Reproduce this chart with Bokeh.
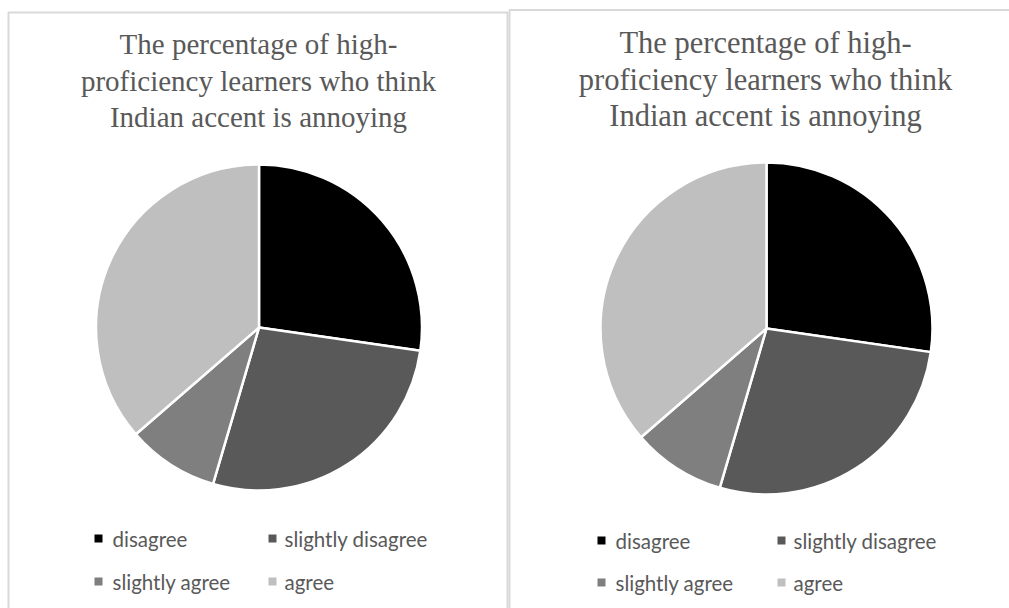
import numpy as np
from bokeh.plotting import figure
from bokeh.models import Range1d
from bokeh.core.properties import value
from bokeh.embed import file_html
from bokeh.resources import INLINE

# Survey answers of the high-proficiency group (counts per answer)
title_lines = ["The percentage of high-",
               "proficiency learners who think",
               "Indian accent is annoying"]
categories = ["disagree", "slightly disagree", "slightly agree", "agree"]
left_counts = [3, 3, 1, 4]
right_counts = [3, 3, 1, 4]
colors = ["#000000", "#595959", "#7f7f7f", "#bfbfbf"]

W, H = 1009, 608
TEXT_GREY = "#595959"
SERIF = "Liberation Serif, Times New Roman, serif"

p = figure(width=W, height=H, x_range=Range1d(0, W), y_range=Range1d(0, H),
           output_backend="svg", toolbar_location=None, min_border=0,
           x_axis_location=None, y_axis_location=None)
p.grid.visible = False
p.outline_line_color = None
p.background_fill_color = "white"
p.border_fill_color = "white"


def fy(y_from_top):
    """Convert a distance from the top of the canvas to a y coordinate."""
    return H - y_from_top


panels = [
    dict(counts=left_counts, box=(8, 507, 12), cx=258.5, cy=327, r=163,
         title_x=258, title_size=29, centers=(43, 80, 116),
         sq_x=(98, 272), txt_x=(112, 284), rows=(538, 581), leg_size=20.5),
    dict(counts=right_counts, box=(509, 1040, 9.5), cx=766, cy=328, r=166,
         title_x=765, title_size=30.5, centers=(42, 79, 115),
         sq_x=(601, 781), txt_x=(615, 793), rows=(540, 582), leg_size=20.5),
]

for pan in panels:
    x0, x1, top = pan["box"]
    p.quad(left=x0, right=x1, top=fy(top), bottom=-30, fill_color=None,
           line_color="#d9d9d9", line_width=2)

    counts = np.array(pan["counts"], dtype=float)
    frac = counts / counts.sum()
    cum = np.concatenate([[0.0], np.cumsum(frac)])
    start = np.pi / 2 - 2 * np.pi * cum[:-1]
    end = np.pi / 2 - 2 * np.pi * cum[1:]
    p.wedge(x=[pan["cx"]] * len(categories), y=[fy(pan["cy"])] * len(categories),
            radius=pan["r"], start_angle=start, end_angle=end, direction="clock",
            fill_color=colors, line_color="white", line_width=2.5)

    p.text(x=[pan["title_x"]] * 3, y=[fy(c) for c in pan["centers"]],
           text=title_lines, text_align="center", text_baseline="middle",
           text_font=value(SERIF),
           text_font_size=f"{pan['title_size']}px", text_color=TEXT_GREY)

    lx, ly, tx = [], [], []
    for i, cat in enumerate(categories):
        row, col = divmod(i, 2)
        lx.append(pan["sq_x"][col])
        ly.append(fy(pan["rows"][row]))
        tx.append(pan["txt_x"][col])
    p.scatter(x=lx, y=ly, marker="square", size=8, fill_color=colors,
              line_color=None)
    p.text(x=tx, y=ly, text=categories, text_align="left",
           text_baseline="middle", text_font=value("Lato"),
           text_font_size=f"{pan['leg_size']}px", text_color=TEXT_GREY)

open("out.html", "w").write(file_html(p, INLINE))
